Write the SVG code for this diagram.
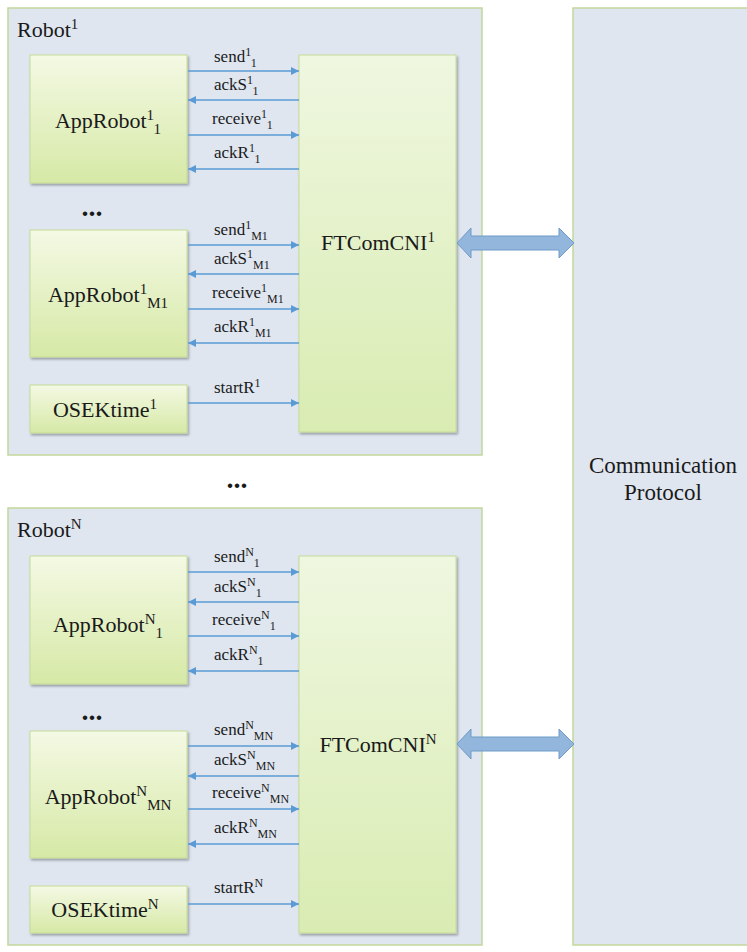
<svg xmlns="http://www.w3.org/2000/svg" width="747" height="952" viewBox="0 0 747 952">
<defs>
<linearGradient id="gApp" x1="0" y1="0" x2="0" y2="1">
<stop offset="0" stop-color="#f4f9e4"/>
<stop offset="1" stop-color="#d6e9a6"/>
</linearGradient>
<linearGradient id="gFT" x1="0" y1="0" x2="0" y2="1">
<stop offset="0" stop-color="#eff7e0"/>
<stop offset="1" stop-color="#d9ecb2"/>
</linearGradient>
<filter id="sh" x="-10%" y="-10%" width="130%" height="130%">
<feDropShadow dx="1.5" dy="2" stdDeviation="1.2" flood-color="#000" flood-opacity="0.3"/>
</filter>
<marker id="ah" viewBox="0 0 10 10" refX="10" refY="5" markerWidth="9" markerHeight="8" markerUnits="userSpaceOnUse" orient="auto">
<path d="M0,0 L10,5 L0,10 z" fill="#5b9bd5"/>
</marker>
</defs>
<style>
.frame{fill:#dfe6f0;stroke:#c4d79b;stroke-width:1.5}
.app{fill:url(#gApp);stroke:#c6db96;stroke-width:1;filter:url(#sh)}
.ft{fill:url(#gFT);stroke:#c6db96;stroke-width:1;filter:url(#sh)}
text{font-family:"Liberation Serif",serif;fill:#1a1a1a}
.big{font-size:22px}
.cp{font-size:23px}
.lab{font-size:17px}
.s15{font-size:15px}
.s12{font-size:12px}
.dots{font-size:28px;font-weight:bold}
.con line{stroke:#5b9bd5;stroke-width:1.6;marker-end:url(#ah)}
.dbl{fill:#93b6dc;stroke:#6f9bc8;stroke-width:1}
</style>

<g id="robot1">
<rect class="frame" x="8" y="8" width="474" height="447"/>
<text class="big" x="17" y="37">Robot<tspan class="s15" dy="-8">1</tspan></text>
</g>
<g id="robotN">
<rect class="frame" x="8" y="508" width="474" height="437"/>
<text class="big" x="17" y="537">Robot<tspan class="s15" dy="-8">N</tspan></text>
</g>
<g id="comm">
<rect class="frame" x="573" y="8" width="184" height="937"/>
<text class="cp" x="663" y="473" text-anchor="middle">Communication</text>
<text class="cp" x="663" y="500" text-anchor="middle">Protocol</text>
</g>

<g id="app1_1">
<rect class="app" x="30" y="55" width="157" height="128"/>
<text class="big" x="108" y="128" text-anchor="middle">AppRobot<tspan class="s15" dy="-8">1</tspan><tspan class="s15" dy="14">1</tspan></text>
</g>
<g id="app1_M1">
<rect class="app" x="30" y="230" width="157" height="127"/>
<text class="big" x="108" y="302" text-anchor="middle">AppRobot<tspan class="s15" dy="-8">1</tspan><tspan class="s15" dy="14">M1</tspan></text>
</g>
<g id="osek1">
<rect class="app" x="30" y="385" width="157" height="48"/>
<text class="big" x="105" y="417" text-anchor="middle">OSEKtime<tspan class="s15" dy="-8">1</tspan></text>
</g>
<g id="ft1">
<rect class="ft" x="299" y="55" width="157" height="377"/>
<text class="big" x="378" y="250" text-anchor="middle">FTComCNI<tspan class="s15" dy="-8">1</tspan></text>
</g>

<g id="appN_1">
<rect class="app" x="30" y="556" width="157" height="128"/>
<text class="big" x="108" y="632" text-anchor="middle">AppRobot<tspan class="s15" dy="-8">N</tspan><tspan class="s15" dy="14">1</tspan></text>
</g>
<g id="appN_MN">
<rect class="app" x="30" y="731" width="157" height="127"/>
<text class="big" x="108" y="804" text-anchor="middle">AppRobot<tspan class="s15" dy="-8">N</tspan><tspan class="s15" dy="14">MN</tspan></text>
</g>
<g id="osekN">
<rect class="app" x="30" y="886" width="157" height="47"/>
<text class="big" x="105" y="917" text-anchor="middle">OSEKtime<tspan class="s15" dy="-8">N</tspan></text>
</g>
<g id="ftN">
<rect class="ft" x="299" y="556" width="157" height="377"/>
<text class="big" x="378" y="752" text-anchor="middle">FTComCNI<tspan class="s15" dy="-8">N</tspan></text>
</g>

<g id="ellipses">
<text class="dots" x="92" y="216" text-anchor="middle">...</text>
<text class="dots" x="237" y="488" text-anchor="middle">...</text>
<text class="dots" x="92" y="720" text-anchor="middle">...</text>
</g>

<g id="connectors" class="con">
<line x1="188" y1="71" x2="299" y2="71"/>
<line x1="299" y1="100" x2="188" y2="100"/>
<line x1="188" y1="135" x2="299" y2="135"/>
<line x1="299" y1="169" x2="188" y2="169"/>
<line x1="188" y1="245" x2="299" y2="245"/>
<line x1="299" y1="274" x2="188" y2="274"/>
<line x1="188" y1="309" x2="299" y2="309"/>
<line x1="299" y1="343" x2="188" y2="343"/>
<line x1="188" y1="403" x2="299" y2="403"/>
<line x1="188" y1="572" x2="299" y2="572"/>
<line x1="299" y1="602" x2="188" y2="602"/>
<line x1="188" y1="636" x2="299" y2="636"/>
<line x1="299" y1="671" x2="188" y2="671"/>
<line x1="188" y1="746" x2="299" y2="746"/>
<line x1="299" y1="776" x2="188" y2="776"/>
<line x1="188" y1="809" x2="299" y2="809"/>
<line x1="299" y1="844" x2="188" y2="844"/>
<line x1="188" y1="904" x2="299" y2="904"/>
<polygon class="dbl" points="457,243 471,228 471,236 559,236 559,228 574,243 559,258 559,250 471,250 471,258"/>
<polygon class="dbl" points="457,744 471,729 471,737 559,737 559,729 574,744 559,759 559,751 471,751 471,759"/>
</g>

<g id="labels">
<text class="lab" x="214" y="62">send<tspan class="s12" dy="-6">1</tspan><tspan class="s12" dy="11">1</tspan></text>
<text class="lab" x="214" y="90">ackS<tspan class="s12" dy="-6">1</tspan><tspan class="s12" dy="11">1</tspan></text>
<text class="lab" x="212" y="124">receive<tspan class="s12" dy="-6">1</tspan><tspan class="s12" dy="11">1</tspan></text>
<text class="lab" x="214" y="158">ackR<tspan class="s12" dy="-6">1</tspan><tspan class="s12" dy="11">1</tspan></text>
<text class="lab" x="214" y="235">send<tspan class="s12" dy="-6">1</tspan><tspan class="s12" dy="11">M1</tspan></text>
<text class="lab" x="214" y="264">ackS<tspan class="s12" dy="-6">1</tspan><tspan class="s12" dy="11">M1</tspan></text>
<text class="lab" x="212" y="298">receive<tspan class="s12" dy="-6">1</tspan><tspan class="s12" dy="11">M1</tspan></text>
<text class="lab" x="214" y="332">ackR<tspan class="s12" dy="-6">1</tspan><tspan class="s12" dy="11">M1</tspan></text>
<text class="lab" x="214" y="393">startR<tspan class="s12" dy="-6">1</tspan></text>
<text class="lab" x="214" y="562">send<tspan class="s12" dy="-6">N</tspan><tspan class="s12" dy="11">1</tspan></text>
<text class="lab" x="214" y="592">ackS<tspan class="s12" dy="-6">N</tspan><tspan class="s12" dy="11">1</tspan></text>
<text class="lab" x="212" y="625">receive<tspan class="s12" dy="-6">N</tspan><tspan class="s12" dy="11">1</tspan></text>
<text class="lab" x="214" y="660">ackR<tspan class="s12" dy="-6">N</tspan><tspan class="s12" dy="11">1</tspan></text>
<text class="lab" x="214" y="735">send<tspan class="s12" dy="-6">N</tspan><tspan class="s12" dy="11">MN</tspan></text>
<text class="lab" x="214" y="765">ackS<tspan class="s12" dy="-6">N</tspan><tspan class="s12" dy="11">MN</tspan></text>
<text class="lab" x="212" y="798">receive<tspan class="s12" dy="-6">N</tspan><tspan class="s12" dy="11">MN</tspan></text>
<text class="lab" x="214" y="833">ackR<tspan class="s12" dy="-6">N</tspan><tspan class="s12" dy="11">MN</tspan></text>
<text class="lab" x="214" y="893">startR<tspan class="s12" dy="-6">N</tspan></text>
</g>
</svg>
